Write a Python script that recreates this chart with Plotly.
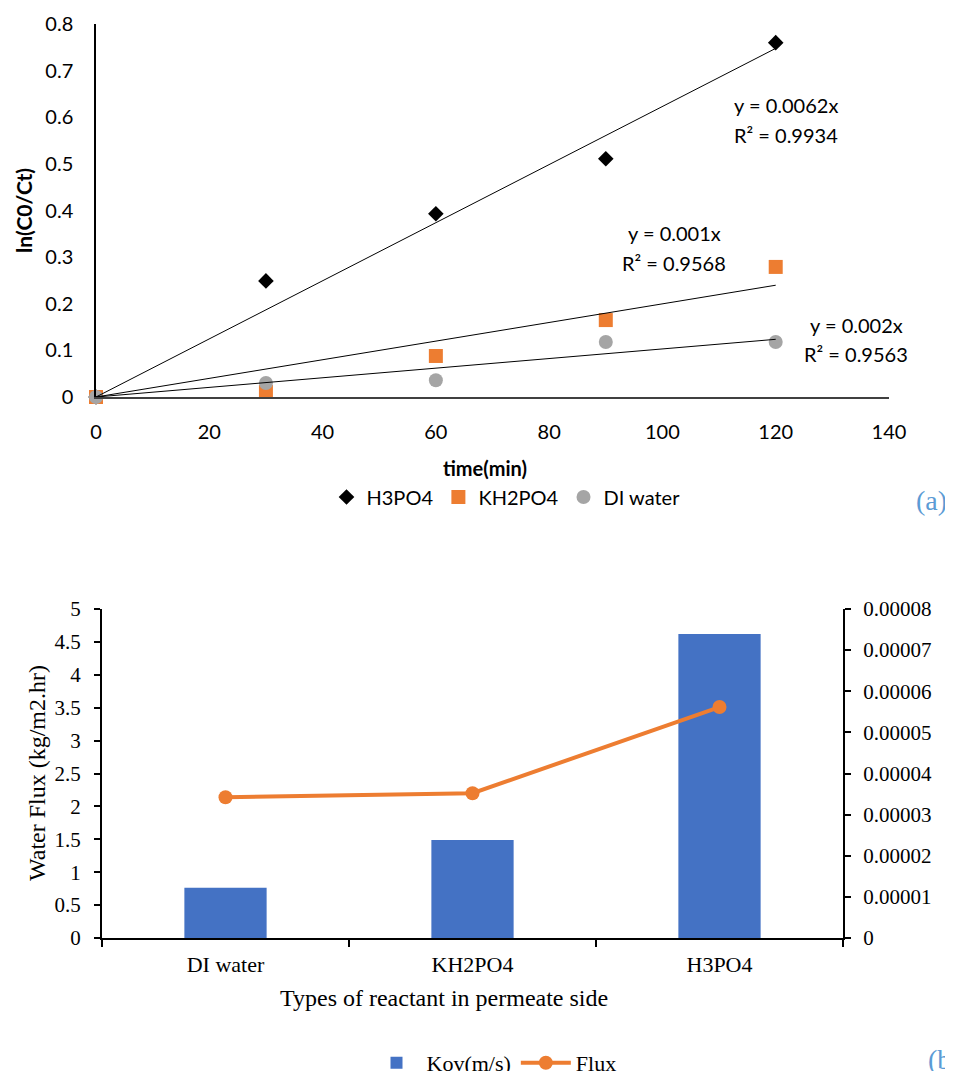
import plotly.graph_objects as go

W, H = 953, 1071
OFF = 8  # page body margin: the figure div starts 8px from the window's top-left corner


def px(x):
    """page pixel x -> paper fraction"""
    return (x - OFF) / W


def py(y):
    """page pixel y -> paper fraction"""
    return 1 - (y - OFF) / H


# ---------------- data: panel (a) ----------------
time_min = [0, 30, 60, 90, 120]
h3po4 = [0, 0.249, 0.393, 0.511, 0.76]
kh2po4 = [0, 0.011, 0.088, 0.165, 0.279]
di_water = [0, 0.030, 0.036, 0.118, 0.118]
series_names = ["H3PO4", "KH2PO4", "DI water"]
eq_text = [["y = 0.0062x", "R² = 0.9934"],
           ["y = 0.001x", "R² = 0.9568"],
           ["y = 0.002x", "R² = 0.9563"]]
x_ticks_a = [0, 20, 40, 60, 80, 100, 120, 140]

# ---------------- data: panel (b) ----------------
categories = ["DI water", "KH2PO4", "H3PO4"]
kov = [1.22e-5, 2.38e-5, 7.39e-5]
flux = [2.14, 2.20, 3.51]

CAL = "Lato, 'Open Sans', sans-serif"
TNR = "'Liberation Serif', 'Times New Roman', serif"
ORANGE = "#ED7D31"
BLUE = "#4472C4"
GREY = "#A5A5A5"

fig = go.Figure()

# scatter markers
styles = [dict(symbol="diamond", color="black", size=12),
          dict(symbol="square", color=ORANGE, size=14),
          dict(symbol="circle", color=GREY, size=14)]
for name, ys, st in zip(series_names, [h3po4, kh2po4, di_water], styles):
    fig.add_trace(go.Scatter(x=time_min, y=ys, mode="markers", name=name,
                             marker=dict(symbol=st["symbol"], color=st["color"], size=st["size"],
                                         line=dict(width=0)),
                             cliponaxis=False, xaxis="x", yaxis="y", legend="legend"))

# linear trendlines through origin (least squares)
for ys in [h3po4, kh2po4, di_water]:
    slope = sum(x * y for x, y in zip(time_min, ys)) / sum(x * x for x in time_min)
    xs = [time_min[0], time_min[-1]]
    fig.add_trace(go.Scatter(x=xs, y=[slope * x for x in xs], mode="lines",
                             line=dict(color="black", width=1), showlegend=False,
                             hoverinfo="skip", cliponaxis=False, xaxis="x", yaxis="y"))

# bars (Kov, right axis) and line (Flux, left axis)
fig.add_trace(go.Bar(x=categories, y=kov, name="Kov(m/s)", marker=dict(color=BLUE, line=dict(width=0)),
                     xaxis="x2", yaxis="y2", legend="legend2"))
fig.add_trace(go.Scatter(x=categories, y=flux, name="Flux", mode="lines+markers",
                         line=dict(color=ORANGE, width=4), marker=dict(color=ORANGE, size=14),
                         cliponaxis=False, xaxis="x2", yaxis="y3", legend="legend2"))

fig.update_layout(
    width=W, height=H, autosize=False,
    margin=dict(l=0, r=0, t=0, b=0, pad=0, autoexpand=False),
    paper_bgcolor="white", plot_bgcolor="rgba(0,0,0,0)",
    bargap=0.667,
    xaxis=dict(domain=[px(96), px(889)], anchor="y", range=[0, 140], tickvals=x_ticks_a,
               automargin=False,
               showline=True, linecolor="#404040", linewidth=1.5, showgrid=False, zeroline=False,
               ticks="", tickfont=dict(family=CAL, size=20, color="black"), ticklabelstandoff=16),
    yaxis=dict(domain=[py(397), py(24)], anchor="x", range=[0, 0.8], dtick=0.1,
               automargin=False,
               showline=True, linecolor="black", linewidth=1.5, showgrid=False, zeroline=False,
               ticks="", tickfont=dict(family=CAL, size=20, color="black"), ticklabelstandoff=17),
    xaxis2=dict(domain=[px(102), px(843)], anchor="y2", type="category", automargin=False,
                showline=True, linecolor="black", linewidth=2, showgrid=False, zeroline=False,
                ticks="outside", tickson="boundaries", ticklen=7, tickwidth=2, tickcolor="black",
                tickfont=dict(family=TNR, size=22, color="black"), ticklabelstandoff=6),
    yaxis2=dict(domain=[py(938), py(609)], anchor="x2", side="right", range=[0, 0.00008],
                dtick=0.00001, tickformat=".5~f", automargin=False,
                showline=True, linecolor="black", linewidth=2, showgrid=False, zeroline=False,
                ticks="outside", ticklen=6, tickwidth=2, tickcolor="black",
                tickfont=dict(family=TNR, size=21, color="black"), ticklabelstandoff=8),
    yaxis3=dict(overlaying="y2", anchor="x2", side="left", range=[0, 5], dtick=0.5, automargin=False,
                showline=True, linecolor="black", linewidth=2, showgrid=False, zeroline=False,
                ticks="outside", ticklen=6, tickwidth=2, tickcolor="black",
                tickfont=dict(family=TNR, size=21, color="black"), ticklabelstandoff=9),
    legend=dict(orientation="h", x=px(506), xanchor="center", y=py(497), yanchor="middle",
                font=dict(family=CAL, size=20, color="black"), bgcolor="rgba(0,0,0,0)",
                itemwidth=30, tracegroupgap=0),
    legend2=dict(orientation="h", x=px(494), xanchor="center", y=py(1063), yanchor="middle",
                 font=dict(family=TNR, size=22, color="black"), bgcolor="rgba(0,0,0,0)",
                 itemwidth=50),
    showlegend=True,
)

ann = []
# axis titles
ann.append(dict(text="<b>ln(C0/Ct)</b>", x=px(23), y=py(211), textangle=-90,
                font=dict(family=CAL, size=21, color="black")))
ann.append(dict(text="<b>time(min)</b>", x=px(485), y=py(468),
                font=dict(family=CAL, size=20, color="black")))
ann.append(dict(text="Water Flux (kg/m2.hr)", x=px(37), y=py(773), textangle=-90,
                font=dict(family=TNR, size=24, color="black")))
ann.append(dict(text="Types of reactant in permeate side", x=px(444), y=py(998),
                font=dict(family=TNR, size=24, color="black")))
ann.append(dict(text="Kov (m/s)", x=px(946), y=py(779), textangle=-90, xanchor="left",
                font=dict(family=TNR, size=24, color="black")))
# equation labels
eq_pos = [(786, 105, 135), (674, 233, 263), (856, 325, 354)]
for (cx, y1, y2), (l1, l2) in zip(eq_pos, eq_text):
    ann.append(dict(text=l1, x=px(cx), y=py(y1), font=dict(family=CAL, size=20, color="black")))
    ann.append(dict(text=l2, x=px(cx), y=py(y2), font=dict(family=CAL, size=20, color="black")))
# panel letters
ann.append(dict(text="(a)", x=px(914), y=py(501), xanchor="left",
                font=dict(family=TNR, size=28, color="#5B9BD5")))
ann.append(dict(text="(b)", x=px(926), y=py(1059), xanchor="left",
                font=dict(family=TNR, size=28, color="#5B9BD5")))

for a in ann:
    a.setdefault("xref", "paper")
    a.setdefault("yref", "paper")
    a.setdefault("showarrow", False)
    a.setdefault("xanchor", "center")
    a.setdefault("yanchor", "middle")
fig.update_layout(annotations=ann)

fig.write_html("out.html")
